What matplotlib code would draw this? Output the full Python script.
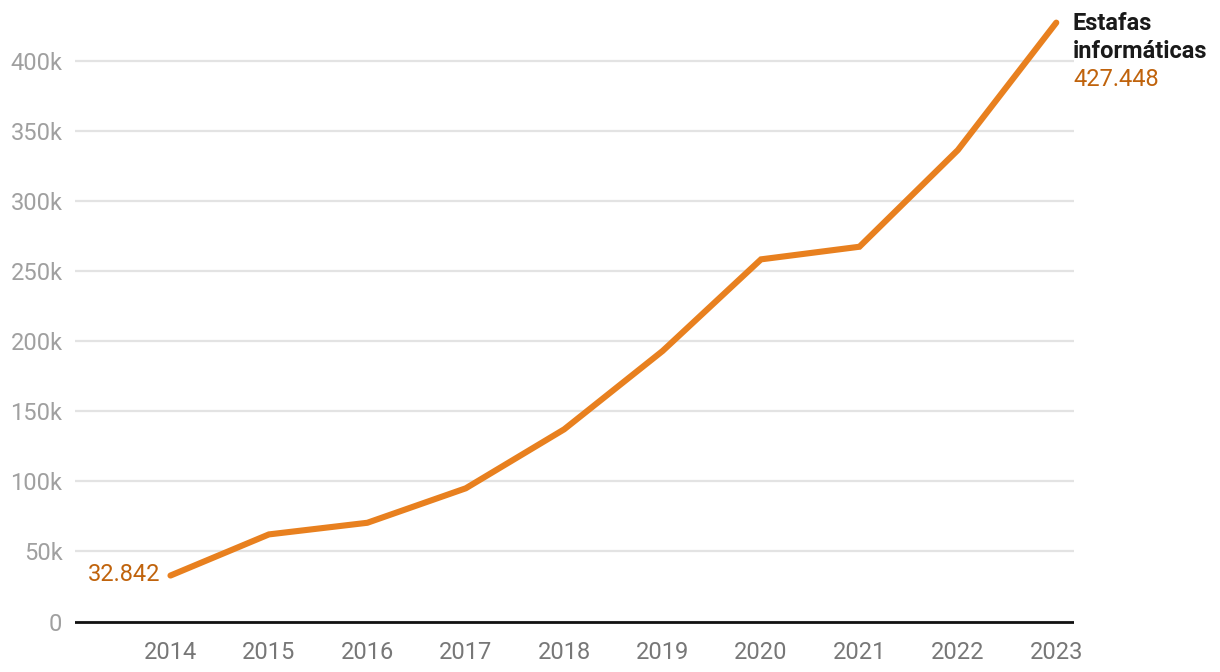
import matplotlib.pyplot as plt
from matplotlib.ticker import FuncFormatter

plt.rcParams['font.family'] = ['Roboto', 'DejaVu Sans']

years = [2014, 2015, 2016, 2017, 2018, 2019, 2020, 2021, 2022, 2023]
estafas = [32842, 62200, 70500, 95100, 137200, 193100, 258500, 267500, 336500, 427448]
yticks = [0, 50000, 100000, 150000, 200000, 250000, 300000, 350000, 400000]
serie = 'Estafas\ninformáticas'
first_label = '32.842'
last_label = '427.448'

line_color = '#e8801f'
label_color = '#c0630c'

fig = plt.figure(figsize=(12.2, 6.72), dpi=100)
ax = fig.add_axes([75 / 1220, 0, (1074 - 75) / 1220, 1])

ax.plot(years, estafas, color=line_color, lw=4.4, solid_capstyle='round',
        solid_joinstyle='miter', zorder=3)

ax.set_xlim(2013.03, 2023.18)
ax.set_ylim(-36000, 443600)
ax.set_yticks(yticks)
ax.yaxis.set_major_formatter(FuncFormatter(lambda v, p: '0' if v == 0 else f'{int(v/1000)}k'))
ax.set_xticks(years)
ax.set_xticklabels([])
ax.grid(axis='y', color='#e3e3e3', lw=1.6)
ax.axhline(0, color='#111111', lw=2, zorder=4)
for s in ax.spines.values():
    s.set_visible(False)
ax.tick_params(axis='both', length=0, labelsize=17)
ax.tick_params(axis='y', colors='#a0a0a0', pad=9)

# x labels just below the zero line
for y in years:
    ax.annotate(str(y), xy=(y, 0), xytext=(0, -14), textcoords='offset points',
                ha='center', va='top', fontsize=17, color='#777777')

ax.annotate(first_label, xy=(years[0], estafas[0]), xytext=(-7, 1), textcoords='offset points',
            ha='right', va='center', fontsize=17, color=label_color)
ax.annotate(serie, xy=(years[-1], estafas[-1]), xytext=(12, 8), textcoords='offset points',
            ha='left', va='top', fontsize=17, color='#1a1a1a', fontweight='bold',
            linespacing=1.3, annotation_clip=False)
ax.annotate(last_label, xy=(years[-1], estafas[-1]), xytext=(12, -33), textcoords='offset points',
            ha='left', va='top', fontsize=17, color=label_color, annotation_clip=False)

fig.savefig('out.png', dpi=100)
